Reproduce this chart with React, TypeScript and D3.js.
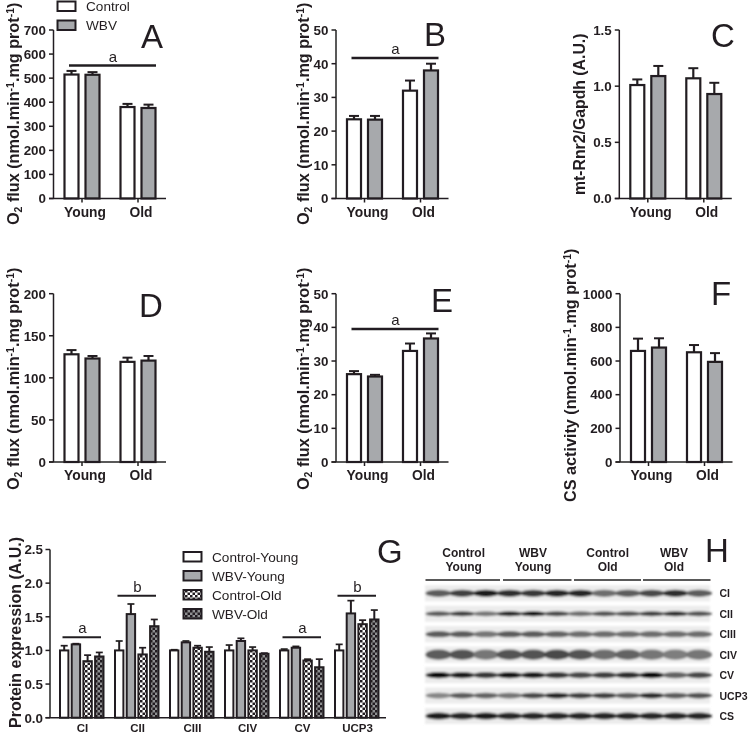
import React from "react";
import * as d3 from "d3";

const INK = "#231f20";
const GRAY = "#a7a9ac";
const FONT = "'Liberation Sans', Arial, sans-serif";

// ---- panels A–F data: Control-Young, WBV-Young, Control-Old, WBV-Old
const ageGroups = ["Young", "Old"];
const meansA = [515, 514, 380, 376];
const topsA = [530, 525, 393, 390];
const meansB = [23.5, 23.4, 32, 38];
const topsB = [24.5, 24.5, 35, 40];
const meansC = [1.01, 1.09, 1.07, 0.93];
const topsC = [1.06, 1.18, 1.16, 1.03];
const meansD = [128, 123, 119, 120.5];
const topsD = [133, 126, 124, 126];
const meansE = [26.1, 25.4, 33, 36.7];
const topsE = [27, 25.9, 35.2, 38.2];
const meansF = [660, 680, 652, 595];
const topsF = [733, 735, 695, 647];

const ticksA = [0, 100, 200, 300, 400, 500, 600, 700];
const ticks50 = [0, 10, 20, 30, 40, 50];
const ticksC = [0, 0.5, 1, 1.5];
const ticksD = [0, 50, 100, 150, 200];
const ticksF = [0, 200, 400, 600, 800, 1000];

// ---- panel G data
const proteins = ["CI", "CII", "CIII", "CIV", "CV", "UCP3"];
const gMeans = [
  [1.0, 1.09, 0.84, 0.91],
  [1.0, 1.54, 0.94, 1.36],
  [1.0, 1.12, 1.04, 0.98],
  [1.0, 1.14, 1.0, 0.95],
  [1.0, 1.04, 0.85, 0.75],
  [1.0, 1.55, 1.39, 1.46],
];
const gTops = [
  [1.07, 1.1, 0.93, 0.97],
  [1.14, 1.69, 1.04, 1.46],
  [1.01, 1.14, 1.07, 1.05],
  [1.08, 1.18, 1.05, 0.96],
  [1.02, 1.06, 0.87, 0.87],
  [1.09, 1.74, 1.45, 1.6],
];
const gTicks = [0, 0.5, 1, 1.5, 2, 2.5];
const gLegend = ["Control-Young", "WBV-Young", "Control-Old", "WBV-Old"];
const gFills = ["#fff", GRAY, "url(#chkW)", "url(#chkG)"];

// ---- panel H data: band darkness for each of the 12 lanes
const blotRows = ["CI", "CII", "CIII", "CIV", "CV", "UCP3", "CS"];
const blotGroups = [["Control", "Young"], ["WBV", "Young"], ["Control", "Old"], ["WBV", "Old"]];
const bandCI = [0.55, 0.7, 0.9, 0.8, 0.75, 0.85, 0.85, 0.45, 0.55, 0.65, 0.8, 0.55];
const bandCII = [0.55, 0.7, 0.4, 0.85, 1, 0.65, 0.45, 0.6, 0.6, 0.7, 0.8, 0.6];
const bandCIII = [0.55, 0.55, 0.4, 0.55, 0.55, 0.5, 0.45, 0.45, 0.45, 0.45, 0.45, 0.45];
const bandCIV = [0.55, 0.6, 0.4, 0.6, 0.6, 0.65, 0.6, 0.45, 0.5, 0.4, 0.35, 0.4];
const bandCV = [1, 0.9, 0.75, 0.95, 0.9, 0.75, 0.65, 0.7, 0.8, 1, 0.5, 0.65];
const bandUCP3 = [0.3, 0.55, 0.5, 0.4, 0.65, 0.85, 0.7, 0.7, 0.55, 0.8, 0.55, 0.6];
const bandCS = [0.9, 0.85, 0.9, 0.85, 0.85, 0.85, 0.85, 0.85, 0.85, 0.85, 0.85, 0.85];
const bandRows = [bandCI, bandCII, bandCIII, bandCIV, bandCV, bandUCP3, bandCS];
const bandHeights = [6, 4, 5, 9, 5, 4.5, 6];

function RotLabel({ x, y, children, size = 16.2 }: any) {
  return (
    <text transform={`translate(${x},${y}) rotate(-90)`} fontFamily={FONT} fontWeight="bold" fontSize={size} fill={INK}>
      {children}
    </text>
  );
}

const O2 = (
  <>
    O<tspan fontSize="10.5" dy="3">2</tspan>
    <tspan dy="-3"> flux (nmol.min</tspan>
    <tspan fontSize="10.5" dy="-5">-1</tspan>
    <tspan dy="5">.mg prot</tspan>
    <tspan fontSize="10.5" dy="-5">-1</tspan>
    <tspan dy="5">)</tspan>
  </>
);
const CSLabel = (
  <>
    CS activity (nmol.min<tspan fontSize="10.5" dy="-5">-1</tspan>
    <tspan dy="5">.mg prot</tspan>
    <tspan fontSize="10.5" dy="-5">-1</tspan>
    <tspan dy="5">)</tspan>
  </>
);

function Panel({ ax, top, bottom, max, ticks, fmt, means, tops, letter, lx, ly, label, labelX, labelY, labelSize, sig }: any) {
  const y = d3.scaleLinear().domain([0, max]).range([bottom, top]);
  const starts = [ax + 11, ax + 32, ax + 67, ax + 88];
  const w = 14;
  return (
    <g>
      {means.map((m: number, i: number) => {
        const cx = starts[i] + w / 2;
        return (
          <g key={i}>
            <line x1={cx} x2={cx} y1={y(m)} y2={y(tops[i])} stroke={INK} strokeWidth={2.2} />
            <line x1={cx - 5} x2={cx + 5} y1={y(tops[i])} y2={y(tops[i])} stroke={INK} strokeWidth={2} />
            <rect x={starts[i]} y={y(m)} width={w} height={bottom - y(m)} fill={i % 2 ? GRAY : "#fff"} stroke={INK} strokeWidth={2.2} />
          </g>
        );
      })}
      <line x1={ax} x2={ax} y1={top} y2={bottom} stroke={INK} strokeWidth={1.5} />
      <line x1={ax - 4.5} x2={ax + 112.5} y1={bottom} y2={bottom} stroke={INK} strokeWidth={1.5} />
      {ticks.map((t: number) => (
        <g key={t}>
          <line x1={ax - 4.5} x2={ax} y1={y(t)} y2={y(t)} stroke={INK} strokeWidth={1.5} />
          <text x={ax - 7.5} y={y(t) + 4.8} textAnchor="end" fontFamily={FONT} fontWeight="bold" fontSize={13.4} fill={INK}>
            {fmt ? fmt(t) : t}
          </text>
        </g>
      ))}
      {ageGroups.map((g, i) => {
        const tx = ax + 28.5 + i * 56;
        return (
          <g key={g}>
            <line x1={tx} x2={tx} y1={bottom} y2={bottom + 4} stroke={INK} strokeWidth={1.5} />
            <text x={tx + 3} y={bottom + 18} textAnchor="middle" fontFamily={FONT} fontWeight="bold" fontSize={13.8} fill={INK}>
              {g}
            </text>
          </g>
        );
      })}
      {sig != null && (
        <g>
          <line x1={ax + 15.5} x2={ax + 102.5} y1={sig} y2={sig} stroke={INK} strokeWidth={2.3} />
          <text x={ax + 59.5} y={sig - 4} textAnchor="middle" fontFamily={FONT} fontSize={15} fill={INK}>a</text>
        </g>
      )}
      <text x={lx} y={ly} fontFamily={FONT} fontSize={33} fill={INK}>{letter}</text>
      <RotLabel x={labelX} y={labelY} size={labelSize}>{label}</RotLabel>
    </g>
  );
}

function PanelG() {
  const y = d3.scaleLinear().domain([0, 2.5]).range([717.7, 549.5]);
  const groupX = d3.scaleBand().domain(proteins).range([60, 390]).paddingInner(0);
  const barX = d3.scaleLinear().domain([0, 1]).range([0, 11.7]);
  const w = 8.4;
  const sigs = [
    { f: "CI", t: "a", yy: 637.3 },
    { f: "CII", t: "b", yy: 595.7 },
    { f: "CV", t: "a", yy: 637.3 },
    { f: "UCP3", t: "b", yy: 595.7 },
  ];
  return (
    <g>
      {proteins.map((p, gi) => (
        <g key={p}>
          {gMeans[gi].map((m, i) => {
            const bx = (groupX(p) as number) + barX(i);
            const cx = bx + w / 2;
            return (
              <g key={i}>
                <line x1={cx} x2={cx} y1={y(m)} y2={y(gTops[gi][i])} stroke={INK} strokeWidth={2} />
                <line x1={cx - 3.5} x2={cx + 3.5} y1={y(gTops[gi][i])} y2={y(gTops[gi][i])} stroke={INK} strokeWidth={1.7} />
                <rect x={bx} y={y(m)} width={w} height={717.7 - y(m)} fill={gFills[i]} stroke={INK} strokeWidth={2} />
              </g>
            );
          })}
          <text x={(groupX(p) as number) + 22.5} y={732} textAnchor="middle" fontFamily={FONT} fontWeight="bold" fontSize={11.5} fill={INK}>{p}</text>
        </g>
      ))}
      <line x1={50} x2={50} y1={549.5} y2={717.7} stroke={INK} strokeWidth={1.5} />
      <line x1={45.5} x2={386} y1={717.7} y2={717.7} stroke={INK} strokeWidth={1.5} />
      {gTicks.map((t) => (
        <g key={t}>
          <line x1={45.5} x2={50} y1={y(t)} y2={y(t)} stroke={INK} strokeWidth={1.5} />
          <text x={43} y={y(t) + 4.8} textAnchor="end" fontFamily={FONT} fontWeight="bold" fontSize={13.4} fill={INK}>{d3.format(".1f")(t)}</text>
        </g>
      ))}
      {sigs.map((s) => {
        const gx = groupX(s.f) as number;
        return (
          <g key={s.f}>
            <line x1={gx + 2.5} x2={gx + 41} y1={s.yy} y2={s.yy} stroke={INK} strokeWidth={2} />
            <text x={gx + 22.5} y={s.yy - 4} textAnchor="middle" fontFamily={FONT} fontSize={15} fill={INK}>{s.t}</text>
          </g>
        );
      })}
      {gLegend.map((l, i) => (
        <g key={l}>
          <rect x={183.5} y={552 + i * 19} width={18} height={9.5} fill={gFills[i]} stroke={INK} strokeWidth={2} />
          <text x={212} y={562 + i * 19} fontFamily={FONT} fontSize={13.6} fill={INK}>{l}</text>
        </g>
      ))}
      <text x={377} y={563} fontFamily={FONT} fontSize={33} fill={INK}>G</text>
      <RotLabel x={20.5} y={728} size={16}>Protein expression (A.U.)</RotLabel>
    </g>
  );
}

function PanelH() {
  const lanes = d3.scaleLinear().domain([0, 11]).range([438.5, 699]);
  const rowY = d3.scalePoint().domain(blotRows).range([593.3, 716]);
  const grayOf = d3.scaleLinear<string>().domain([0, 1]).range(["#bcbcbc", "#0c0c0c"]);
  const groupSpans = [[425.5, 500], [503, 571.5], [574, 641], [643, 710.5]];
  return (
    <g>
      <g filter="url(#blur)">
        {blotRows.map((r) => (
          <rect key={r} x={425} y={(rowY(r) as number) - 8} width={285} height={16} fill="#ececec" />
        ))}
        {blotRows.map((r, ri) =>
          bandRows[ri].map((d, i) => (
            <ellipse key={r + i} cx={lanes(i)} cy={rowY(r) as number} rx={13} ry={bandHeights[ri] / 2 + 0.6} fill={grayOf(d)} />
          ))
        )}
      </g>
      {blotGroups.map((g, i) => {
        const cx = [463.7, 533, 607.7, 674][i];
        return (
          <g key={i}>
            <text x={cx} y={556.7} textAnchor="middle" fontFamily={FONT} fontWeight="bold" fontSize={12} fill={INK}>{g[0]}</text>
            <text x={cx} y={570.7} textAnchor="middle" fontFamily={FONT} fontWeight="bold" fontSize={12} fill={INK}>{g[1]}</text>
            <line x1={groupSpans[i][0]} x2={groupSpans[i][1]} y1={580} y2={580} stroke={INK} strokeWidth={1.5} />
          </g>
        );
      })}
      {blotRows.map((r) => (
        <text key={r} x={719.5} y={(rowY(r) as number) + 4} fontFamily={FONT} fontWeight="bold" fontSize={10.5} fill={INK}>{r}</text>
      ))}
      <text x={705} y={562} fontFamily={FONT} fontSize={33} fill={INK}>H</text>
    </g>
  );
}

export default function App() {
  const f1 = d3.format(".1f");
  return (
    <svg width={748} height={735} viewBox="0 0 748 735" style={{ position: "absolute", left: 0, top: 0, background: "#fff" }}>
      <defs>
        <filter id="blur" x="-5%" y="-5%" width="110%" height="110%"><feGaussianBlur stdDeviation="1" /></filter>
        <filter id="soft" x="0" y="0" width="100%" height="100%"><feGaussianBlur stdDeviation="0.35" /></filter>
        <pattern id="chkW" width="5" height="5" patternUnits="userSpaceOnUse">
          <rect width="5" height="5" fill="#fff" />
          <rect width="2.5" height="2.5" fill={INK} />
          <rect x="2.5" y="2.5" width="2.5" height="2.5" fill={INK} />
        </pattern>
        <pattern id="chkG" width="5" height="5" patternUnits="userSpaceOnUse">
          <rect width="5" height="5" fill="#8f9092" />
          <rect width="2.5" height="2.5" fill={INK} />
          <rect x="2.5" y="2.5" width="2.5" height="2.5" fill={INK} />
        </pattern>
      </defs>
      <g filter="url(#soft)">
        <Panel ax={53.5} top={30} bottom={198.5} max={700} ticks={ticksA} means={meansA} tops={topsA} letter="A" lx={141} ly={48} label={O2} labelX={19} labelY={225} sig={65.5} />
        <Panel ax={336} top={30} bottom={198.5} max={50} ticks={ticks50} means={meansB} tops={topsB} letter="B" lx={424} ly={46} label={O2} labelX={309} labelY={225} sig={58} />
        <Panel ax={619.3} top={30} bottom={198.5} max={1.5} ticks={ticksC} fmt={f1} means={meansC} tops={topsC} letter="C" lx={711} ly={47} label="mt-Rnr2/Gapdh (A.U.)" labelX={585} labelY={195} labelSize={15.8} />
        <Panel ax={53.5} top={293.7} bottom={462} max={200} ticks={ticksD} means={meansD} tops={topsD} letter="D" lx={139} ly={317} label={O2} labelX={19} labelY={490} />
        <Panel ax={336} top={293.7} bottom={462} max={50} ticks={ticks50} means={meansE} tops={topsE} letter="E" lx={431} ly={312} label={O2} labelX={309} labelY={490} sig={329} />
        <Panel ax={620} top={293.7} bottom={462} max={1000} ticks={ticksF} means={meansF} tops={topsF} letter="F" lx={711} ly={305} label={CSLabel} labelX={576} labelY={502} />
        <rect x={57.5} y={1.5} width={18} height={9.5} fill="#fff" stroke={INK} strokeWidth={2} />
        <rect x={57.5} y={20.5} width={18} height={9.5} fill={GRAY} stroke={INK} strokeWidth={2} />
        <text x={86} y={10.5} fontFamily={FONT} fontSize={13.6} fill={INK}>Control</text>
        <text x={86} y={29.5} fontFamily={FONT} fontSize={13.6} fill={INK}>WBV</text>
        <PanelG />
        <PanelH />
      </g>
    </svg>
  );
}
